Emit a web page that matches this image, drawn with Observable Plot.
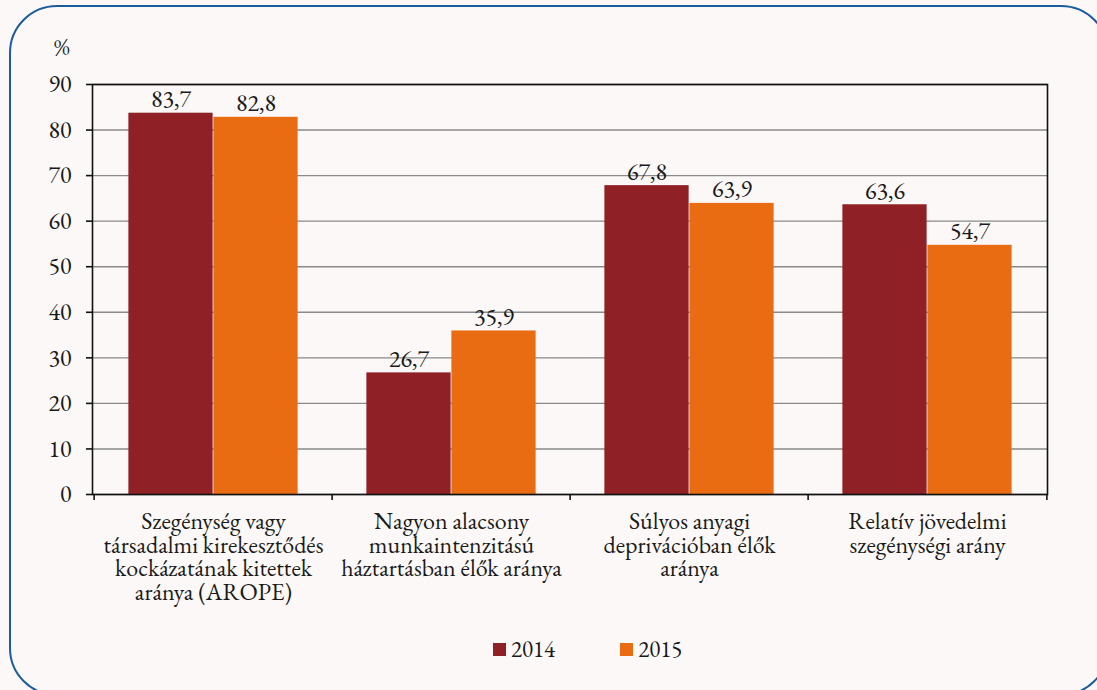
<!DOCTYPE html>
<html>
<head>
<meta charset="utf-8">
<script src="https://cdn.jsdelivr.net/npm/d3@7"></script>
<script src="https://cdn.jsdelivr.net/npm/@observablehq/plot@0.6"></script>
<style>
  html, body { margin: 0; padding: 0; background: #fbf8f7; width: 1097px; height: 690px; overflow: hidden; }
  #wrap { position: relative; width: 1097px; height: 690px; color: #1a1a1a; }
  #box { position: absolute; left: 9px; top: 5px; width: 1096px; height: 687px; border: 2px solid #1b5c9e; border-radius: 48px; }
  #chart { position: absolute; left: 0; top: 0; }
  #unit { position: absolute; left: 54px; top: 31px; font-size: 24px; }
  #legend { position: absolute; left: 493px; top: 634px; display: flex; font-size: 23px; align-items: center; }
  .item { display: flex; align-items: center; }
  .sw { width: 13px; height: 13px; margin-right: 5px; }
</style>
</head>
<body>
<div id="wrap">
  <div id="box"></div>
  <div id="chart"></div>
  <div id="unit" style="font-family:'EB Garamond'">%</div>
  <div id="legend" style="font-family:'EB Garamond'"></div>
</div>
<script>
const categories = ["AROPE", "LWI", "SMD", "ARPR"];
const categoryLabels = [
  "Szegénység vagy\ntársadalmi kirekesztődés\nkockázatának kitettek\naránya (AROPE)",
  "Nagyon alacsony\nmunkaintenzitású\nháztartásban élők aránya",
  "Súlyos anyagi\ndeprivációban élők\naránya",
  "Relatív jövedelmi\nszegénységi arány"
];
const years = ["2014", "2015"];
const values2014 = [83.7, 26.7, 67.8, 63.6];
const values2015 = [82.8, 35.9, 63.9, 54.7];
const yTicks = [0, 10, 20, 30, 40, 50, 60, 70, 80, 90];
const colors = ["#8f2126", "#e96c13"];

const data2014 = categories.map((c, i) => ({cat: c, year: years[0], v: values2014[i]}));
const data2015 = categories.map((c, i) => ({cat: c, year: years[1], v: values2015[i]}));
const labelOf = new Map(categories.map((c, i) => [c, categoryLabels[i]]));
const fmt = v => v.toFixed(1).replace(".", ",");

const W = 1097, H = 690;
const mL = 92, mR = 50, mT = 84, mB = 196;
const bw = (W - mL - mR) / categories.length;
const barW = 85;
const fs = 24;
const FONT = "EB Garamond";

const plot = Plot.plot({
  width: W, height: H,
  marginLeft: mL, marginRight: mR, marginTop: mT, marginBottom: mB,
  style: {background: "transparent", color: "#1a1a1a", overflow: "visible"},
  x: {domain: categories, padding: 0, axis: null, label: null},
  y: {domain: [0, 90], axis: null, label: null},
  marks: [
    Plot.gridY(yTicks, {stroke: "#8a8a8a", strokeOpacity: 1, strokeWidth: 1.4}),
    Plot.barY(data2014, {x: "cat", y: "v", fill: colors[0], insetLeft: bw / 2 - barW, insetRight: bw / 2}),
    Plot.barY(data2015, {x: "cat", y: "v", fill: colors[1], insetLeft: bw / 2, insetRight: bw / 2 - barW}),
    Plot.text(data2014, {x: "cat", y: "v", text: d => fmt(d.v), dx: -barW / 2, dy: -6, lineAnchor: "bottom", fontSize: fs, fill: "#1a1a1a"}),
    Plot.text(data2015, {x: "cat", y: "v", text: d => fmt(d.v), dx: barW / 2, dy: -6, lineAnchor: "bottom", fontSize: fs, fill: "#1a1a1a"}),
    Plot.frame({stroke: "#111", strokeWidth: 1.6}),
    Plot.axisY({ticks: yTicks, label: null, tickSize: 6, tickPadding: 15, fontSize: fs, stroke: "#111", strokeWidth: 1.6, fill: "#1a1a1a"}),
    Plot.axisX({label: null, tickSize: 6, tickFormat: () => "", dx: -bw / 2, stroke: "#111", strokeWidth: 1.6}),
    Plot.axisX({label: null, ticks: [categories[categories.length - 1]], tickSize: 6, tickFormat: () => "", dx: bw / 2, stroke: "#111", strokeWidth: 1.6}),
    Plot.axisX({label: null, tickSize: 0, tickPadding: 18, tickFormat: d => labelOf.get(d), fontSize: fs, lineHeight: 0.98, fill: "#1a1a1a"})
  ]
});
plot.setAttribute("font-family", FONT);
plot.style.fontFamily = FONT;
plot.querySelectorAll("text, g").forEach(el => { el.setAttribute("font-family", FONT); el.style.fontFamily = FONT; });
document.getElementById("chart").appendChild(plot);

const legend = document.getElementById("legend");
years.forEach((y, i) => {
  const it = document.createElement("div");
  it.className = "item";
  it.style.marginRight = i === 0 ? "65px" : "0";
  const sw = document.createElement("div");
  sw.className = "sw";
  sw.style.background = colors[i];
  const t = document.createElement("span");
  t.textContent = y;
  t.style.fontFamily = FONT;
  it.appendChild(sw); it.appendChild(t);
  legend.appendChild(it);
});
</script>
</body>
</html>
